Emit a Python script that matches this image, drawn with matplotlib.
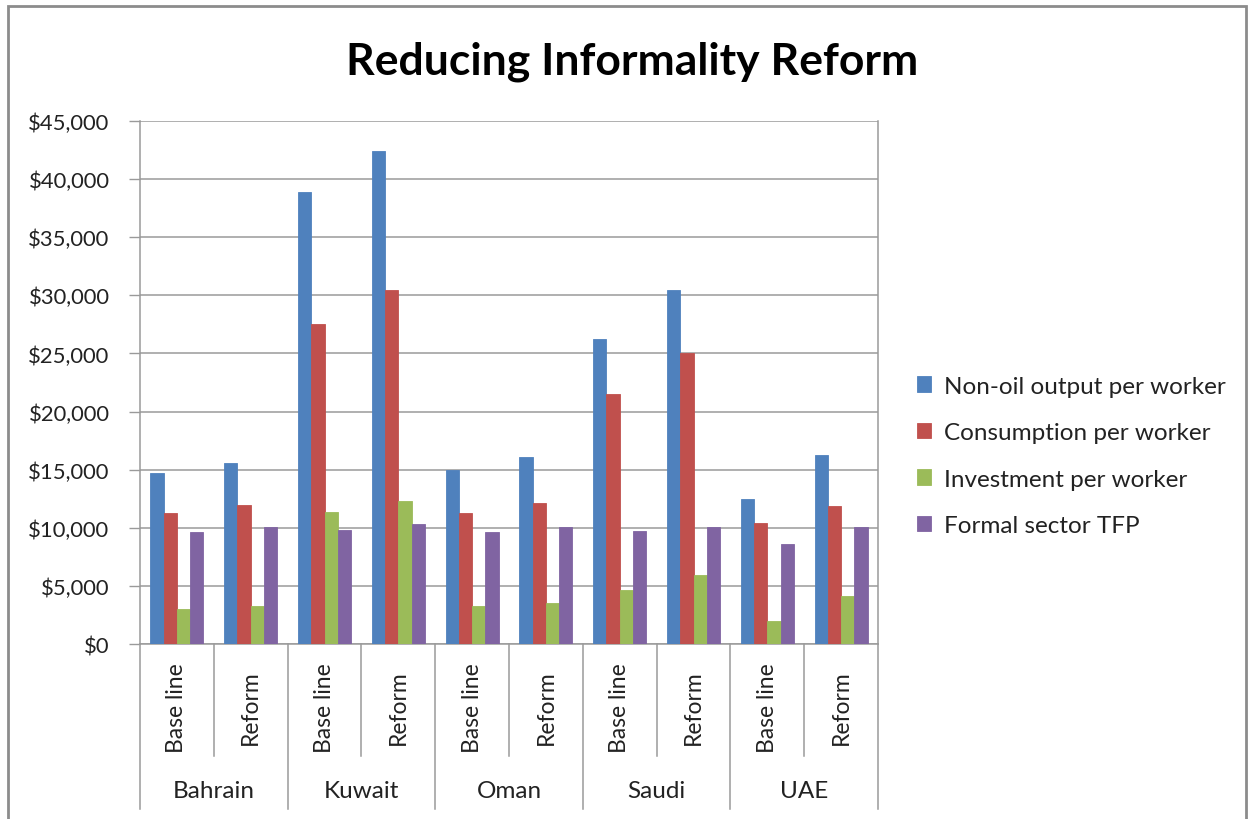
import matplotlib
matplotlib.use('Agg')
import matplotlib.pyplot as plt
from matplotlib.patches import Rectangle
from matplotlib.ticker import FuncFormatter, MultipleLocator

plt.rcParams['font.family'] = ['Lato', 'DejaVu Sans']

countries = ['Bahrain', 'Kuwait', 'Oman', 'Saudi', 'UAE']
scenarios = ['Base line', 'Reform']

series_names = ['Non-oil output per worker', 'Consumption per worker',
                'Investment per worker', 'Formal sector TFP']
colors = ['#4F81BD', '#C0504D', '#9BBB59', '#8064A2']

# order: Bahrain base, Bahrain reform, Kuwait base, ... UAE reform
output = [14700, 15600, 38900, 42400, 15000, 16050, 26200, 30450, 12500, 16250]
consumption = [11300, 12000, 27500, 30450, 11300, 12100, 21550, 25050, 10400, 11850]
investment = [3050, 3300, 11400, 12300, 3300, 3550, 4650, 5950, 1950, 4100]
tfp = [9600, 10050, 9850, 10300, 9600, 10050, 9700, 10050, 8600, 10050]
series = [output, consumption, investment, tfp]

W, H = 1250, 820
fig = plt.figure(figsize=(12.5, 8.2), dpi=100)

# outer chart frame
fig.patches.append(Rectangle((8 / W, -0.05), 1238 / W, 1.05 - 7 / H,
                             transform=fig.transFigure, fill=False,
                             edgecolor='#8c8c8c', linewidth=2))

ax = fig.add_axes([140 / W, 1 - 645 / H, 738 / W, 523 / H])

n = len(countries) * len(scenarios)
bw = 0.18
for i, (vals, col, name) in enumerate(zip(series, colors, series_names)):
    xs = [k + (i - 1.5) * bw for k in range(n)]
    ax.bar(xs, vals, width=bw, color=col, edgecolor=col, linewidth=0.6,
           label=name, zorder=3)

ax.set_xlim(-0.5, n - 0.5)
ax.set_ylim(0, 45000)
ax.yaxis.set_major_locator(MultipleLocator(5000))
ax.yaxis.set_major_formatter(FuncFormatter(lambda v, p: '${:,.0f}'.format(v)))
ax.grid(axis='y', color='#9a9a9a', linewidth=1.1, zorder=0)
ax.tick_params(axis='y', direction='out', length=8, width=1, color='#9a9a9a',
               labelsize=15.8, pad=14, labelcolor='#222222')
ax.set_xticks([])
for side in ['left', 'right', 'bottom']:
    ax.spines[side].set_color('#9a9a9a')
    ax.spines[side].set_linewidth(1.1)
ax.spines['top'].set_visible(False)

# two-level category axis
tr = ax.get_xaxis_transform()
for k in range(n + 1):
    low = -(810 - 645) / 523 if k % 2 == 0 else -(757 - 645) / 523
    ax.plot([k - 0.5, k - 0.5], [0, low], transform=tr, color='#9a9a9a',
            linewidth=1.1, clip_on=False)
for k in range(n):
    ax.text(k, -(708 - 645) / 523, scenarios[k % 2], transform=tr,
            rotation=90, ha='center', va='center', fontsize=16.5,
            color='#222222')
for g, c in enumerate(countries):
    ax.text(2 * g + 0.5, -(792 - 645) / 523, c, transform=tr,
            ha='center', va='center', fontsize=17.5, color='#222222')

fig.text(632 / W, 1 - 62 / H, 'Reducing Informality Reform', ha='center',
         va='center', fontsize=32, fontweight='bold')

fig.legend(loc='center left', bbox_to_anchor=(895 / W, 1 - 457 / H),
           frameon=False, fontsize=17.5, handlelength=0.6, handleheight=0.6,
           handletextpad=0.5, labelspacing=1.05, labelcolor='#222222')

fig.savefig('out.png', dpi=100)
